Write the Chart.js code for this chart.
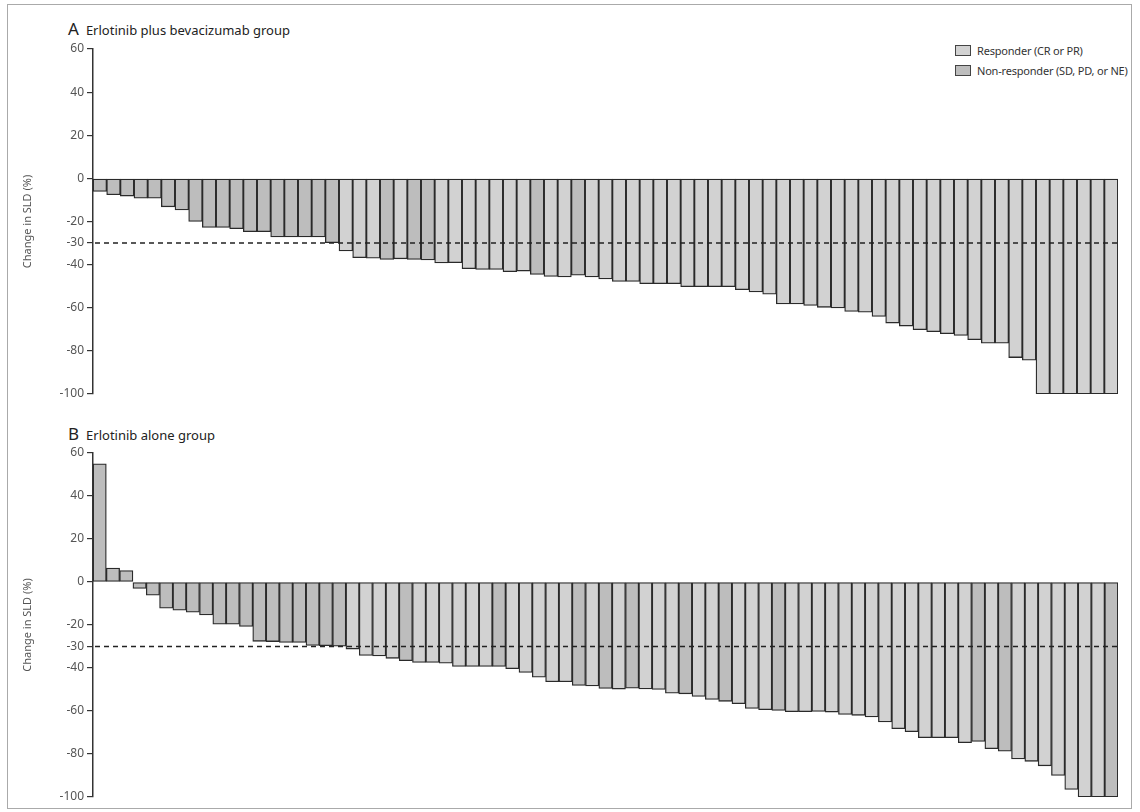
<!DOCTYPE html>
<html lang="en">
<head>
    <meta charset="UTF-8">
    <title>Change in SLD waterfall</title>
    <script src="https://cdn.jsdelivr.net/npm/chart.js"></script>
    <style>
        body {
            margin: 0;
            width: 1140px;
            height: 812px;
            background: #fff;
            font-family: "Noto Sans", sans-serif;
            position: relative;
            overflow: hidden;
        }
        .frame {
            position: absolute;
            left: 7px; top: 4px;
            width: 1125px; height: 805px;
            border: 1px solid #aaa;
            box-sizing: border-box;
        }
        .panel { position: absolute; left: 0; width: 1140px; height: 406px; }
        .title {
            position: absolute;
            font-size: 13px;
            color: #222;
            white-space: nowrap;
        }
        .title b { font-weight: normal; font-size: 17px; margin-right: 7px; }
        .legend {
            position: absolute;
            left: 955px; top: 41px;
            font-size: 11px;
            letter-spacing: -0.2px;
            color: #333;
            line-height: 20px;
            white-space: nowrap;
        }
        .sw {
            display: inline-block;
            width: 14px; height: 9px;
            border: 1px solid #444;
            margin-right: 6px;
            vertical-align: -1px;
        }
    </style>
</head>
<body>
    <div class="frame"></div>
    <div class="title" style="left:68px; top:17px;"><b>A</b>Erlotinib plus bevacizumab group</div>
    <div class="title" style="left:68px; top:422px;"><b>B</b>Erlotinib alone group</div>
    <div class="legend">
        <div><span class="sw" style="background:#d2d2d2"></span>Responder (CR or PR)</div>
        <div><span class="sw" style="background:#bdbdbd"></span>Non-responder (SD, PD, or NE)</div>
    </div>
    <div class="panel" style="top:0"><canvas id="chartA" width="1140" height="406"></canvas></div>
    <div class="panel" style="top:406px"><canvas id="chartB" width="1140" height="406"></canvas></div>
    <script>
        // Panel A: erlotinib plus bevacizumab, % change in SLD per patient
        const bevValues = [
            -6.1, -7.6, -8.2, -9.2, -9.2, -13.2, -14.6, -20.0, -22.8, -22.8,
            -23.3, -24.7, -24.7, -27.2, -27.2, -27.2, -27.2, -29.8, -33.7, -36.8,
            -37.0, -37.6, -37.3, -37.6, -37.8, -39.2, -39.1, -41.9, -42.2, -42.2,
            -43.3, -43.0, -44.6, -45.5, -45.7, -44.9, -45.7, -46.6, -47.8, -47.8,
            -48.8, -48.8, -48.8, -50.2, -50.2, -50.2, -50.2, -51.6, -52.7, -53.7,
            -58.2, -58.2, -58.9, -59.8, -60.1, -61.7, -62.1, -64.0, -67.1, -68.5,
            -70.2, -71.1, -72.0, -72.8, -74.8, -76.4, -76.4, -83.1, -84.3, -100,
            -100, -100, -100, -100, -100
        ];
        // bar numbers (1-based) of non-responders in panel A
        const bevNonResponders = [1, 2, 3, 4, 5, 6, 7, 8, 9, 10, 11, 12, 13, 14, 15, 16, 17, 18, 22, 24, 25, 33, 36];

        // Panel B: erlotinib alone
        const aloneValues = [
            55, 6.5, 5.3, -3.0, -6.1, -12.2, -13.1, -14.0, -15.3, -19.6,
            -19.6, -20.7, -27.6, -27.7, -28.1, -28.1, -29.5, -29.6, -29.9, -31.2,
            -34.2, -34.4, -35.5, -36.6, -37.4, -37.4, -37.8, -39.3, -39.3, -39.3,
            -39.3, -40.3, -42.1, -44.3, -46.4, -46.4, -48.1, -48.3, -49.5, -49.8,
            -49.4, -49.7, -50.0, -51.7, -52.0, -53.2, -54.6, -55.5, -56.6, -58.8,
            -59.4, -59.7, -60.3, -60.3, -60.2, -60.5, -61.6, -62.0, -62.8, -65.1,
            -68.2, -69.6, -72.4, -72.4, -72.4, -74.7, -74.2, -77.5, -78.7, -82.3,
            -83.4, -85.5, -90.0, -96.5, -100, -100, -100
        ];
        const aloneNonResponders = [1, 2, 3, 4, 5, 6, 7, 8, 9, 10, 11, 12, 13, 14, 15, 16, 17, 18, 19, 24, 31, 37, 39, 41, 45, 48, 52, 67, 69, 77];

        const yTicks = [60, 40, 20, 0, -20, -30, -40, -60, -80, -100];
        const responseCutoff = -30;

        const lightGrey = '#d2d2d2';
        const darkGrey = '#bdbdbd';

        // dashed line at the -30% response threshold
        const cutoffLine = {
            id: 'cutoffLine',
            afterDatasetsDraw(chart) {
                const ctx = chart.ctx;
                const y = chart.scales.y.getPixelForValue(responseCutoff);
                const area = chart.chartArea;
                ctx.save();
                ctx.strokeStyle = '#222';
                ctx.lineWidth = 1.5;
                ctx.setLineDash([5, 4]);
                ctx.beginPath();
                ctx.moveTo(area.left + 2, y);
                ctx.lineTo(area.right, y);
                ctx.stroke();
                ctx.restore();
            }
        };

        function makeChart(id, values, nonResp, padTop, padBottom) {
            const labels = values.map((v, i) => i + 1);
            const colors = labels.map(n => nonResp.includes(n) ? darkGrey : lightGrey);
            new Chart(document.getElementById(id), {
                type: 'bar',
                data: {
                    labels: labels,
                    datasets: [{
                        data: values,
                        backgroundColor: colors,
                        borderColor: '#2a2a2a',
                        borderWidth: 1.3,
                        borderSkipped: false,
                        categoryPercentage: 1,
                        barPercentage: 1
                    }]
                },
                options: {
                    responsive: false,
                    animation: false,
                    layout: { padding: { top: padTop, bottom: padBottom, right: 22, left: 0 } },
                    plugins: { legend: { display: false }, tooltip: { enabled: false } },
                    scales: {
                        x: { display: false },
                        y: {
                            min: -100,
                            max: 60,
                            afterBuildTicks: scale => {
                                scale.ticks = yTicks.map(v => ({ value: v }));
                            },
                            afterFit: scale => { scale.width = 93; },
                            border: { display: true, color: '#333', width: 1.5 },
                            grid: { drawOnChartArea: false, color: '#333', tickLength: 6, lineWidth: 1.2 },
                            ticks: {
                                color: '#555',
                                font: { family: 'Noto Sans', size: 12 },
                                padding: 3
                            },
                            title: {
                                display: true,
                                text: 'Change in SLD (%)',
                                color: '#555',
                                font: { family: 'Noto Sans', size: 11 },
                                padding: { top: 21, bottom: 0 }
                            }
                        }
                    }
                },
                plugins: [cutoffLine]
            });
        }

        makeChart('chartA', bevValues, bevNonResponders, 49, 12);
        makeChart('chartB', aloneValues, aloneNonResponders, 47, 15);
    </script>
</body>
</html>
